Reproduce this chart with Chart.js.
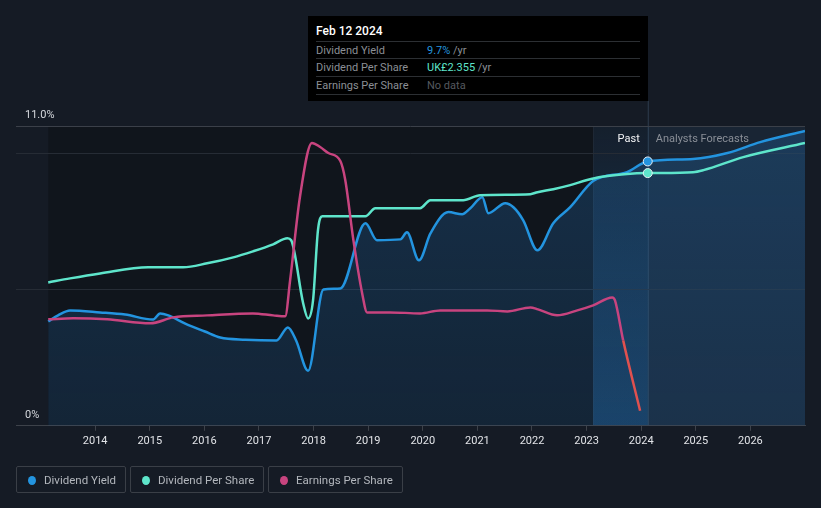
<!DOCTYPE html>
<html>
<head>
<meta charset="utf-8">
<script src="https://cdn.jsdelivr.net/npm/chart.js@4.4.1/dist/chart.umd.min.js"></script>
<style>
  html, body { margin: 0; padding: 0; background: #151b25; }
  body { width: 821px; height: 508px; position: relative; overflow: hidden; font-family: Roboto, "Open Sans", sans-serif; }
  #wrap { position: absolute; left: 0; top: 0; width: 821px; height: 508px; }
  .tip { position: absolute; left: 308px; top: 16px; width: 340px; height: 85px; background: #000; }
  .tip .date { position: absolute; left: 8px; top: 8px; color: #fff; font-size: 12px; font-weight: 500; }
  .tip .row { position: absolute; left: 8px; width: 324px; height: 17px; border-top: 1px solid #2c2f33; font-size: 11px; line-height: 17px; color: #8b8f95; }
  .tip .row span.v { position: absolute; left: 111px; }
  .legend { position: absolute; top: 466px; height: 27px; border: 1px solid #3a3f47; border-radius: 2px; color: #b3b7bd; font-size: 11.5px; line-height: 27px; box-sizing: border-box; }
  .legend i { position: absolute; left: 11px; top: 9px; width: 8px; height: 9px; border-radius: 50%; }
  .legend span { position: absolute; left: 27px; }
</style>
</head>
<body>
<div id="wrap"><canvas id="main" width="821" height="508"></canvas></div>

<div class="tip">
  <div class="date">Feb 12 2024</div>
  <div class="row" style="top:25px"><span>Dividend Yield</span><span class="v"><b style="color:#2394df;font-weight:400">9.7%</b> /yr</span></div>
  <div class="row" style="top:42px"><span>Dividend Per Share</span><span class="v"><b style="color:#5ee5cb;font-weight:400">UK£2.355</b> /yr</span></div>
  <div class="row" style="top:60px; border-bottom:1px solid #2c2f33"><span>Earnings Per Share</span><span class="v" style="color:#55595f">No data</span></div>
</div>

<div class="legend" style="left:16px;width:110px"><i style="background:#2394df"></i><span>Dividend Yield</span></div>
<div class="legend" style="left:130px;width:134px"><i style="background:#5ee5cb"></i><span>Dividend Per Share</span></div>
<div class="legend" style="left:268px;width:135px"><i style="background:#c8447f"></i><span>Earnings Per Share</span></div>

<script>
// dividend yield, %
const yieldYears = [2013.14, 2013.32, 2013.54, 2014.09, 2014.55, 2015.06, 2015.19, 2015.34, 2015.65, 2016.01, 2016.29, 2016.75, 2017.32, 2017.53, 2017.68, 2017.90, 2018.18, 2018.49, 2018.95, 2019.16, 2019.59, 2019.71, 2019.93, 2020.14, 2020.47, 2020.72, 2020.87, 2021.09, 2021.20, 2021.51, 2021.66, 2021.84, 2022.10, 2022.39, 2022.70, 2023.12, 2023.74, 2024.12, 2024.95, 2025.58, 2026.18, 2027.0];
const yieldValues = [3.83, 4.05, 4.23, 4.16, 4.08, 3.90, 4.12, 4.05, 3.75, 3.46, 3.24, 3.16, 3.13, 3.61, 3.13, 2.02, 5.00, 5.04, 7.43, 6.81, 6.84, 7.10, 6.07, 7.06, 7.84, 7.76, 7.98, 8.39, 7.80, 8.17, 8.02, 7.54, 6.44, 7.43, 8.02, 8.98, 9.31, 9.70, 9.79, 10.01, 10.41, 10.82];

// dividend per share, UK£
const dpsYears = [2013.14, 2013.54, 2014.09, 2014.97, 2015.61, 2016.05, 2016.53, 2016.89, 2017.26, 2017.52, 2017.59, 2017.81, 2017.90, 2017.99, 2018.08, 2018.16, 2018.95, 2019.13, 2019.95, 2020.14, 2020.74, 2021.05, 2021.97, 2022.10, 2022.39, 2022.70, 2023.01, 2023.25, 2023.74, 2024.12, 2024.95, 2025.14, 2025.87, 2027.0];
const dpsValues = [1.336, 1.374, 1.420, 1.477, 1.477, 1.514, 1.570, 1.626, 1.691, 1.748, 1.729, 1.140, 1.000, 1.168, 1.822, 1.953, 1.953, 2.028, 2.028, 2.103, 2.103, 2.149, 2.159, 2.177, 2.205, 2.243, 2.290, 2.318, 2.346, 2.355, 2.364, 2.383, 2.504, 2.635];

// earnings per share, UK£
const epsYears = [2013.14, 2013.60, 2014.22, 2015.01, 2015.43, 2016.05, 2016.89, 2017.26, 2017.48, 2017.57, 2017.75, 2017.97, 2018.12, 2018.27, 2018.49, 2018.58, 2018.73, 2018.89, 2018.98, 2019.40, 2019.95, 2020.32, 2021.18, 2021.55, 2021.97, 2022.11, 2022.46, 2022.83, 2023.12, 2023.47, 2023.52, 2023.67, 2023.98];
const epsValues = [0.213, 0.215, 0.213, 0.205, 0.217, 0.221, 0.225, 0.221, 0.219, 0.291, 0.458, 0.566, 0.558, 0.546, 0.530, 0.492, 0.371, 0.265, 0.227, 0.227, 0.225, 0.231, 0.231, 0.229, 0.237, 0.233, 0.221, 0.231, 0.241, 0.257, 0.251, 0.171, 0.030];

const yearTicks = [2014, 2015, 2016, 2017, 2018, 2019, 2020, 2021, 2022, 2023, 2024, 2025, 2026];
const yieldGrid = [0, 5, 10, 11];
const pastStart = 2023.12;
const today = 2024.12;

const pairs = (xs, ys) => xs.map((x, i) => ({ x, y: ys[i] }));
const markIdx = (xs) => xs.indexOf(today);

const bands = {
  id: 'bands',
  beforeDraw(chart) {
    const { ctx, chartArea: a, scales: { x } } = chart;
    const x0 = x.getPixelForValue(yieldYears[0]);
    const x1 = x.getPixelForValue(pastStart);
    const x2 = x.getPixelForValue(today);
    ctx.save();
    ctx.fillStyle = 'rgba(0,0,0,0.22)';
    ctx.fillRect(x0, a.top, x1 - x0, a.bottom - a.top);
    let g = ctx.createLinearGradient(0, a.top, 0, a.bottom);
    g.addColorStop(0, 'rgba(30,110,180,0.06)');
    g.addColorStop(1, 'rgba(30,110,180,0.38)');
    ctx.fillStyle = g;
    ctx.fillRect(x1, a.top, x2 - x1, a.bottom - a.top);
    ctx.fillStyle = 'rgba(40,75,110,0.22)';
    ctx.fillRect(x2, a.top, a.right - x2, a.bottom - a.top);
    ctx.fillStyle = 'rgba(255,255,255,0.05)';
    ctx.fillRect(x1, a.top, 1, a.bottom - a.top);
    ctx.fillStyle = 'rgba(120,160,200,0.25)';
    ctx.fillRect(x2, 101, 1, a.bottom - 101);
    ctx.restore();
  },
  afterDraw(chart) {
    const { ctx, chartArea: a, scales: { x, y } } = chart;
    const x2 = x.getPixelForValue(today);
    ctx.save();
    ctx.font = '11px Roboto, sans-serif';
    ctx.textBaseline = 'alphabetic';
    ctx.fillStyle = '#d6d9de';
    ctx.fillText('11.0%', 25, y.getPixelForValue(11) - 8);
    ctx.fillText('0%', 25, y.getPixelForValue(0) - 8);
    ctx.fillStyle = '#f2f3f5';
    ctx.textAlign = 'right';
    ctx.fillText('Past', x2 - 8, a.top + 16);
    ctx.fillStyle = '#8a8f97';
    ctx.textAlign = 'left';
    ctx.fillText('Analysts Forecasts', x2 + 8, a.top + 16);
    ctx.restore();
  }
};

const chartDom = document.getElementById('main');
const ctx2 = chartDom.getContext('2d');
const fillGrad = ctx2.createLinearGradient(0, 126, 0, 425);
fillGrad.addColorStop(0, 'rgba(35,110,175,0.30)');
fillGrad.addColorStop(1, 'rgba(35,110,175,0.18)');

const line = (label, data, color, axis, extra) => Object.assign({
  label, data, borderColor: color, backgroundColor: color, yAxisID: axis,
  borderWidth: 2.5, cubicInterpolationMode: 'monotone', fill: false,
  pointRadius: 0, pointHoverRadius: 0,
}, extra);

new Chart(chartDom, {
  type: 'line',
  data: {
    datasets: [
      line('Earnings Per Share', pairs(epsYears, epsValues), '#c8447f', 'eps', {
        segment: { borderColor: c => c.p0.parsed.x >= 2023.6 ? '#e0514f' : undefined },
      }),
      line('Dividend Per Share', pairs(dpsYears, dpsValues), '#5ee5cb', 'dps', {
        pointRadius: c => c.dataIndex === markIdx(dpsYears) ? 4.5 : 0,
        pointBorderColor: '#e8f4f4', pointBorderWidth: 1, pointBackgroundColor: '#5ee5cb',
      }),
      line('Dividend Yield', pairs(yieldYears, yieldValues), '#2394df', 'y', {
        fill: 'origin', backgroundColor: fillGrad,
        pointRadius: c => c.dataIndex === markIdx(yieldYears) ? 4.5 : 0,
        pointBorderColor: '#e8f0f8', pointBorderWidth: 1, pointBackgroundColor: '#2394df',
      }),
    ],
  },
  options: {
    responsive: false,
    animation: false,
    events: [],
    layout: { padding: { left: 16, right: 16, top: 126, bottom: 56 } },
    plugins: { legend: { display: false }, tooltip: { enabled: false } },
    scales: {
      x: {
        type: 'linear', min: 2012.55, max: 2027.0,
        afterBuildTicks: s => { s.ticks = yearTicks.map(v => ({ value: v })); },
        grid: { drawOnChartArea: false, color: '#3d424a', tickLength: 5 },
        border: { color: '#3d424a' },
        ticks: { color: '#e2e4e8', font: { family: 'Roboto', size: 11 }, padding: 4, callback: v => String(v) },
      },
      y: {
        min: 0, max: 11,
        afterBuildTicks: s => { s.ticks = yieldGrid.map(v => ({ value: v })); },
        grid: { drawTicks: false, color: c => c.tick.value === 11 ? '#3b4049' : (c.tick.value === 0 ? 'rgba(0,0,0,0)' : '#262c35') },
        border: { display: false },
        ticks: { display: false },
      },
      dps: { display: false, min: 0, max: 2.794 },
      eps: { display: false, min: 0, max: 0.6 },
    },
  },
  plugins: [bands],
});
</script>
</body>
</html>
